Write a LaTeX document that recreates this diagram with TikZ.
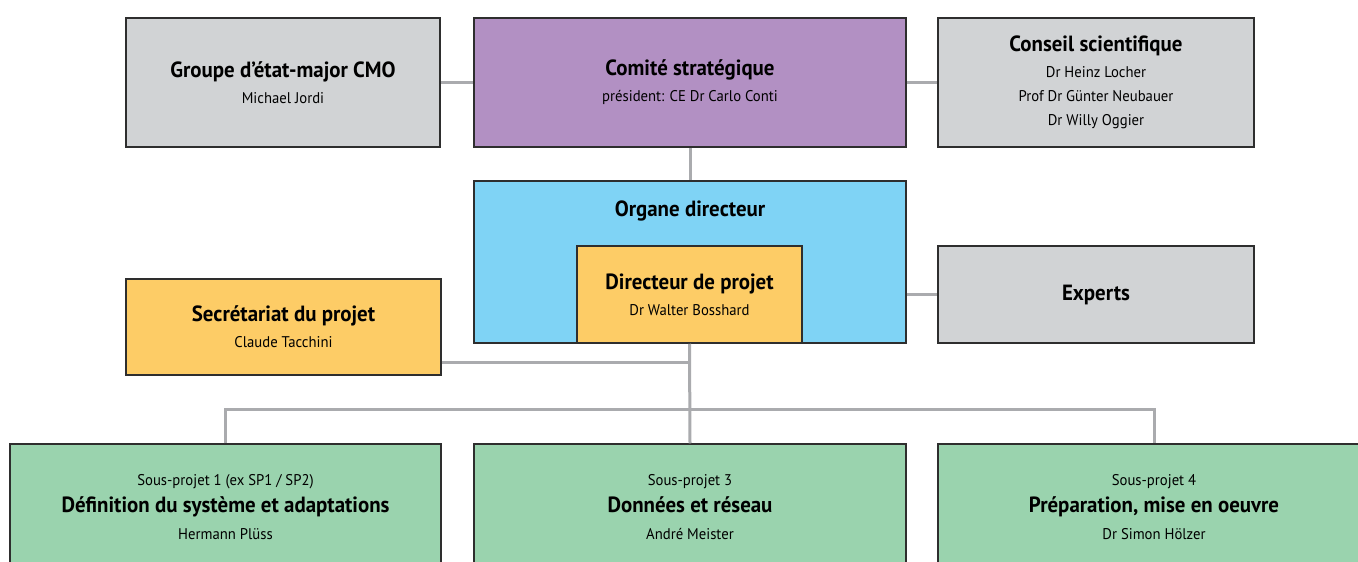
\documentclass[tikz,border=0pt]{standalone}
\usepackage{fontspec}
\setmainfont{PT Sans}[FakeStretch=0.95]
\usepackage{tikz}
\usepackage{xcolor}

\definecolor{boxgrey}{HTML}{D1D3D5}
\definecolor{boxpurple}{HTML}{B290C3}
\definecolor{boxblue}{HTML}{7FD3F5}
\definecolor{boxyellow}{HTML}{FDCC66}
\definecolor{boxgreen}{HTML}{9AD3AE}
\definecolor{boxline}{HTML}{2E2E2E}
\definecolor{linkgrey}{HTML}{AAABAE}

\newcommand{\boxtitle}[1]{{\fontsize{22}{24}\selectfont\bfseries #1}}

\begin{document}
\begin{tikzpicture}[x=1pt,y=-1pt,
  unit/.style={draw=boxline, line width=1.5pt, align=center, inner sep=0pt,
    font=\fontsize{15.5}{24}\selectfont},
  link/.style={draw=linkgrey, line width=3pt}]

  \clip (0,0) rectangle (1358,562);
  \fill[white] (0,0) rectangle (1358,562);

  \node[unit, fill=boxgrey, minimum width=314, minimum height=129] (grp) at (283,82.5)
    {\boxtitle{Groupe d’état-major CMO}\\[2pt] Michael Jordi};
  \node[unit, fill=boxpurple, minimum width=432, minimum height=129] (comite) at (690,82.5)
    {\boxtitle{Comité stratégique}\\[2pt] président: CE Dr Carlo Conti};
  \node[unit, fill=boxgrey, minimum width=316, minimum height=129] (conseil) at (1096,82.5)
    {\boxtitle{Conseil scientifique}\\[2pt] Dr Heinz Locher\\ Prof Dr Günter Neubauer\\ Dr Willy Oggier};

  \node[unit, fill=boxblue, minimum width=432, minimum height=162] (organe) at (690,262) {};
  \node (organetxt) at (690,211) {\boxtitle{Organe directeur}};
  \node[unit, fill=boxyellow, minimum width=225, minimum height=97] (dirproj) at (689.5,294.5)
    {\boxtitle{Directeur de projet}\\[2pt] Dr Walter Bosshard};
  \node[unit, fill=boxgrey, minimum width=316, minimum height=97] (experts) at (1096,294.5)
    {\boxtitle{Experts}};
  \node[unit, fill=boxyellow, minimum width=315, minimum height=96] (secr) at (283.5,327)
    {\boxtitle{Secrétariat du projet}\\[2pt] Claude Tacchini};

  \node[unit, fill=boxgreen, minimum width=431, minimum height=126] (sp1) at (225.5,507)
    {Sous-projet 1 (ex SP1 / SP2)\\[3pt] \boxtitle{Définition du système et adaptations}\\[3pt] Hermann Plüss};
  \node[unit, fill=boxgreen, minimum width=432, minimum height=126] (sp3) at (690,507)
    {Sous-projet 3\\[3pt] \boxtitle{Données et réseau}\\[3pt] André Meister};
  \node[unit, fill=boxgreen, minimum width=432, minimum height=126] (sp4) at (1154,507)
    {Sous-projet 4\\[3pt] \boxtitle{Préparation, mise en oeuvre}\\[3pt] Dr Simon Hölzer};

  % connectors
  \coordinate (bus) at (689,409);
  \coordinate (secrjoin) at (689,362);
  \draw[link] (grp.east) -- (comite.west);
  \draw[link] (comite.east) -- (conseil.west);
  \draw[link] (comite.south) -- (organe.north);
  \draw[link] (organe.east |- experts.west) -- (experts.west);
  \draw[link] (dirproj.south) -- (sp3.north);
  \draw[link] (secr.east |- secrjoin) -- (secrjoin);
  \draw[link] (sp1.north) |- (bus) -| (sp4.north);
\end{tikzpicture}
\end{document}
